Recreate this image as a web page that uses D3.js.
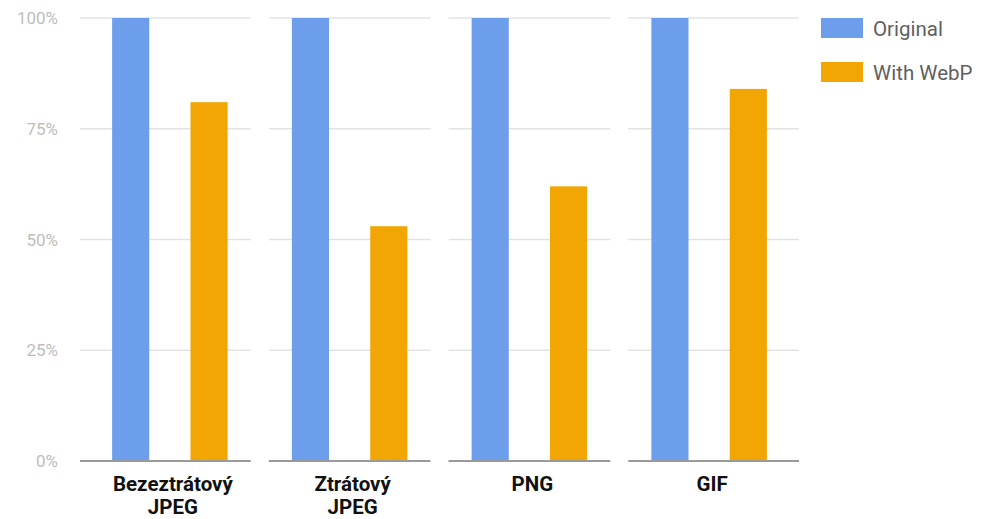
<!DOCTYPE html>
<html><head><meta charset="utf-8">
<script src="https://cdn.jsdelivr.net/npm/d3@7"></script>
<style>body{margin:0;background:#fff}svg{display:block}</style>
</head><body>
<script>
const categories = [["Bezeztrátový","JPEG"],["Ztrátový","JPEG"],["PNG"],["GIF"]];
const seriesNames = ["Original","With WebP"];
const original = [100,100,100,100];
const withWebP = [81,53,62,84];
const yTicks = [0,25,50,75,100];
const colors = ["#6d9eeb","#f1a603"];

const W=989,H=519;
const svg=d3.select("body").append("svg").attr("width",W).attr("height",H);
const keys=categories.map(c=>c.join(" "));
const x=d3.scaleBand().domain(keys).range([80,799]);
const xs=d3.scaleBand().domain(seriesNames).range([0,x.bandwidth()]).paddingInner(0.526).paddingOuter(0.41);
const y=d3.scaleLinear().domain([0,100]).range([461,18]);

function seg(i,k){
  return [x(k)+(i===0?0:9), x(k)+x.bandwidth()-(i===keys.length-1?0:9)];
}

// gridlines per group
keys.forEach((k,i)=>{
  const [x0,x1]=seg(i,k);
  svg.append("g").selectAll("line").data(yTicks.filter(t=>t>0)).join("line")
    .attr("x1",x0).attr("x2",x1).attr("y1",d=>y(d)).attr("y2",d=>y(d))
    .attr("stroke","#e3e3e3").attr("stroke-width",1.5);
});

// y labels
svg.append("g").selectAll("text").data(yTicks).join("text")
  .attr("x",58).attr("y",d=>y(d)+6).attr("text-anchor","end")
  .attr("font-family","Roboto, sans-serif").attr("font-size",17).attr("fill","#bdbdbd")
  .text(d=>d+"%");

// bars
const data=keys.map((k,i)=>({k,vals:[original[i],withWebP[i]]}));
const g=svg.append("g");
data.forEach(d=>{
  g.append("g").selectAll("rect").data(d.vals.map((v,j)=>({s:seriesNames[j],v,j}))).join("rect")
    .attr("x",e=>x(d.k)+xs(e.s)).attr("width",xs.bandwidth())
    .attr("y",e=>y(e.v)).attr("height",e=>y(0)-y(e.v))
    .attr("fill",e=>colors[e.j]);
});

// baseline per group
keys.forEach((k,i)=>{
  const [x0,x1]=seg(i,k);
  svg.append("line").attr("x1",x0).attr("x2",x1).attr("y1",y(0)).attr("y2",y(0))
    .attr("stroke","#9a9a9a").attr("stroke-width",2);
});

// x labels
categories.forEach((c,i)=>{
  const t=svg.append("text").attr("text-anchor","middle")
    .attr("font-family","Roboto, sans-serif").attr("font-weight","bold").attr("font-size",20.5).attr("fill","#111");
  c.forEach((line,li)=>{
    t.append("tspan").attr("x",x(keys[i])+x.bandwidth()/2+3).attr("y",491+li*23).text(line);
  });
});

// legend
const lg=svg.append("g");
seriesNames.forEach((s,i)=>{
  lg.append("rect").attr("x",821).attr("y",18+i*44).attr("width",42).attr("height",20).attr("fill",colors[i]);
  lg.append("text").attr("x",873).attr("y",36+i*44).attr("font-family","Roboto, sans-serif")
    .attr("font-size",20.5).attr("fill","#5f5f5f").text(s);
});
</script>
</body></html>
